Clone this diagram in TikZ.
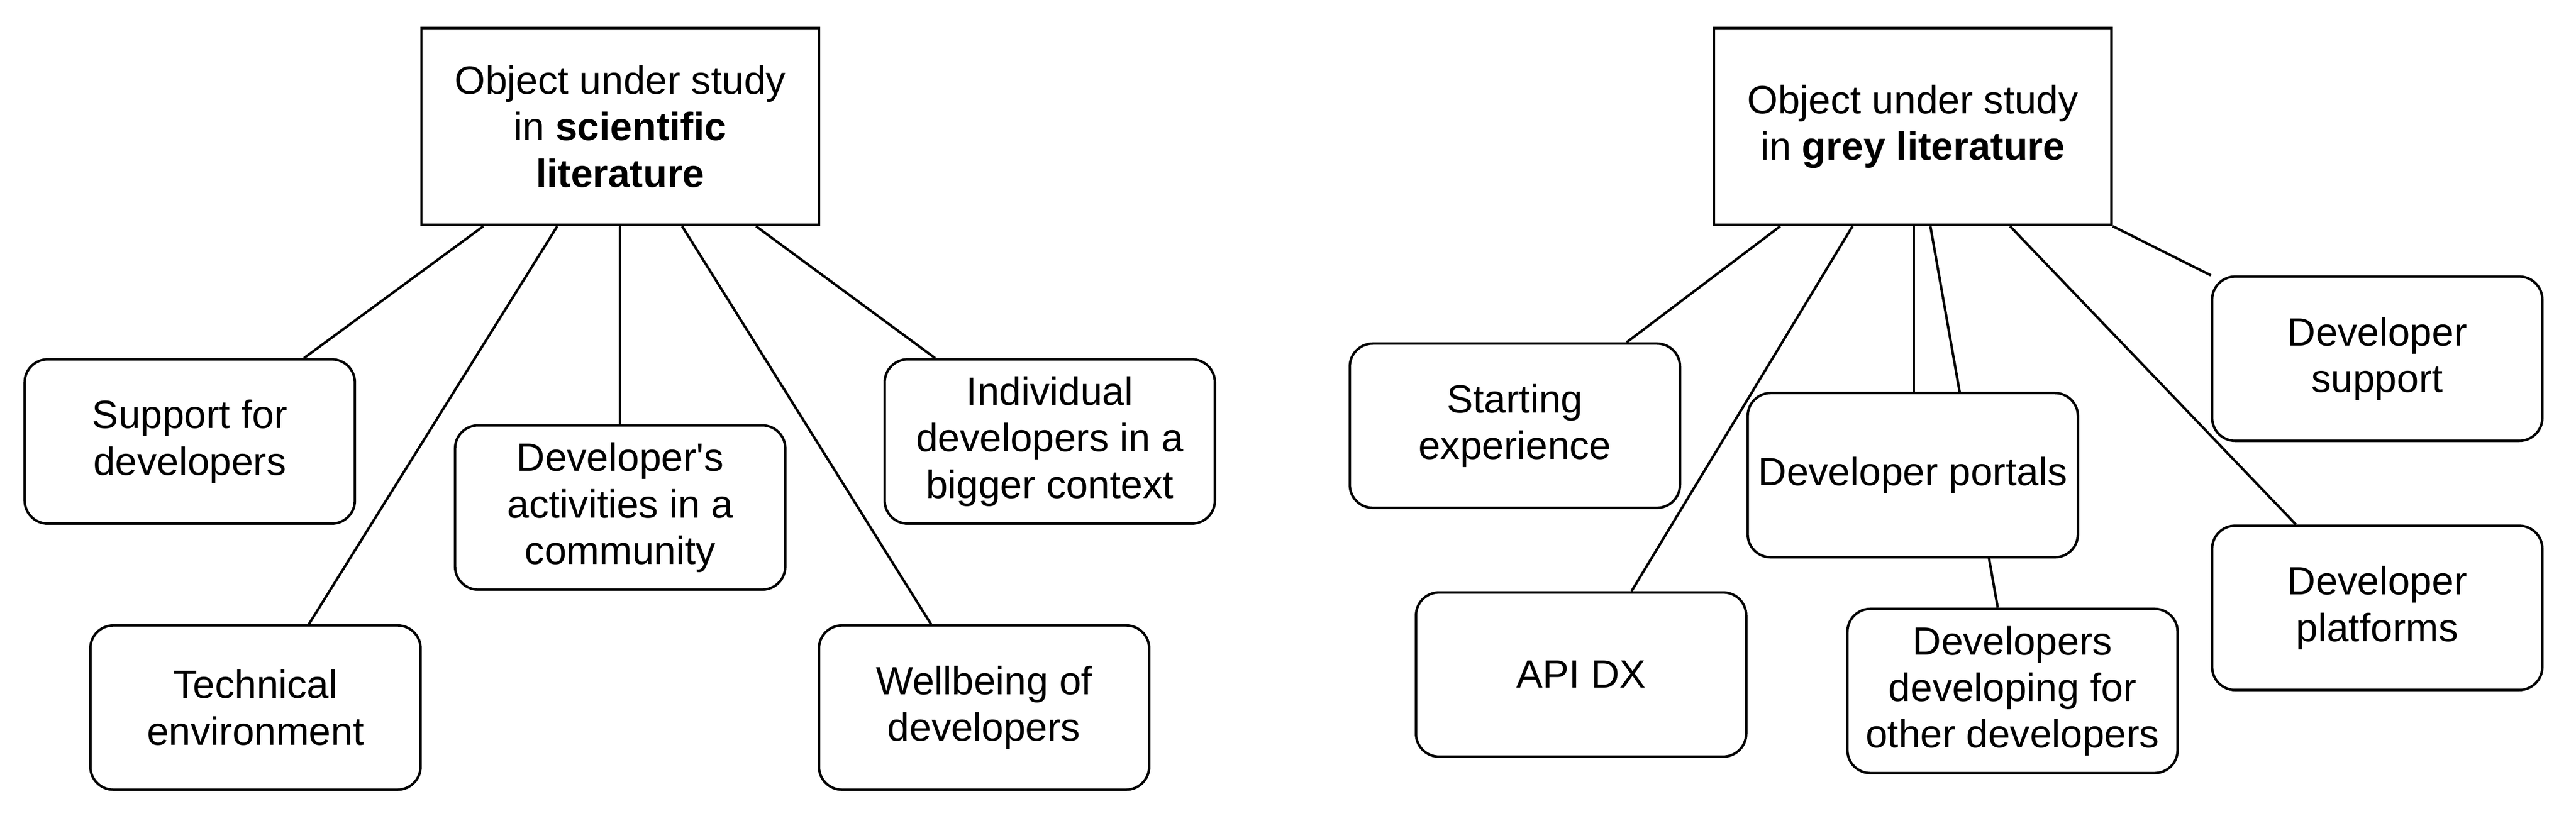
\documentclass[tikz,border=0pt]{standalone}
\usepackage{fontspec}
\setmainfont{Liberation Sans}
\usetikzlibrary{backgrounds}

\begin{document}
\begin{tikzpicture}
[x=1pt, y=-1pt,
  rootdecorate/.style={shape=rectangle,draw,fill=white,line width=1.5pt,%
    minimum width=242pt,minimum height=120pt,align=center,%
    font=\fontsize{24}{28.3}\selectfont},
  leafdecorate/.style={rootdecorate,rounded corners=14pt,%
    minimum width=201pt,minimum height=100pt},
  linedecorate/.style={-,line width=1.5pt}]
\useasboundingbox (0,0) rectangle (1568,499.7);
%% roots
\node (lroot) at (377.5,77) [rootdecorate]
  {Object under study\\in \textbf{scientific}\\\textbf{literature}};
\node (rroot) at (1164.3,77) [rootdecorate]
  {Object under study\\in \textbf{grey literature}};
%% leaves
\foreach \nodename/\x/\y/\txt in {sup/115.5/268.8/{Support for\\developers},
  tech/155.5/430.8/{Technical\\environment},
  act/377.5/309/{Developer\textquotesingle s\\activities in a\\community},
  ind/639/268.8/{Individual\\developers in a\\bigger context},
  well/599/430.8/{Wellbeing of\\developers},
  start/922.1/259.2/{Starting\\experience},
  portals/1164.3/289.3/{Developer portals},
  apidx/962.4/410.7/{API DX},
  devdev/1225/420.7/{Developers\\developing for\\other developers},
  dsup/1447/218.4/{Developer\\support},
  dplat/1447/370.1/{Developer\\platforms}}
{
  \node (\nodename) at (\x,\y) [leafdecorate] {\txt};
}
%% edges or lines
\begin{scope}[on background layer]
\foreach \startnode/\startshift/\endnode/\endshift in {lroot/-83.3/sup/69.5,
  lroot/-38.3/tech/32.5, lroot/0/act/0, lroot/37.7/well/-32.3,
  lroot/82.7/ind/-69.8, rroot/-80.7/start/68, rroot/-36.7/apidx/30.7,
  rroot/0.7/portals/0.7, rroot/10.7/devdev/-9, rroot/59.2/dplat/-49.5}
{
  \draw[linedecorate] ([xshift=\startshift]\startnode.south)
    -- ([xshift=\endshift]\endnode.north);
}
\draw[linedecorate] (rroot.south east) -- (dsup.north west);
\end{scope}
\end{tikzpicture}
\end{document}
